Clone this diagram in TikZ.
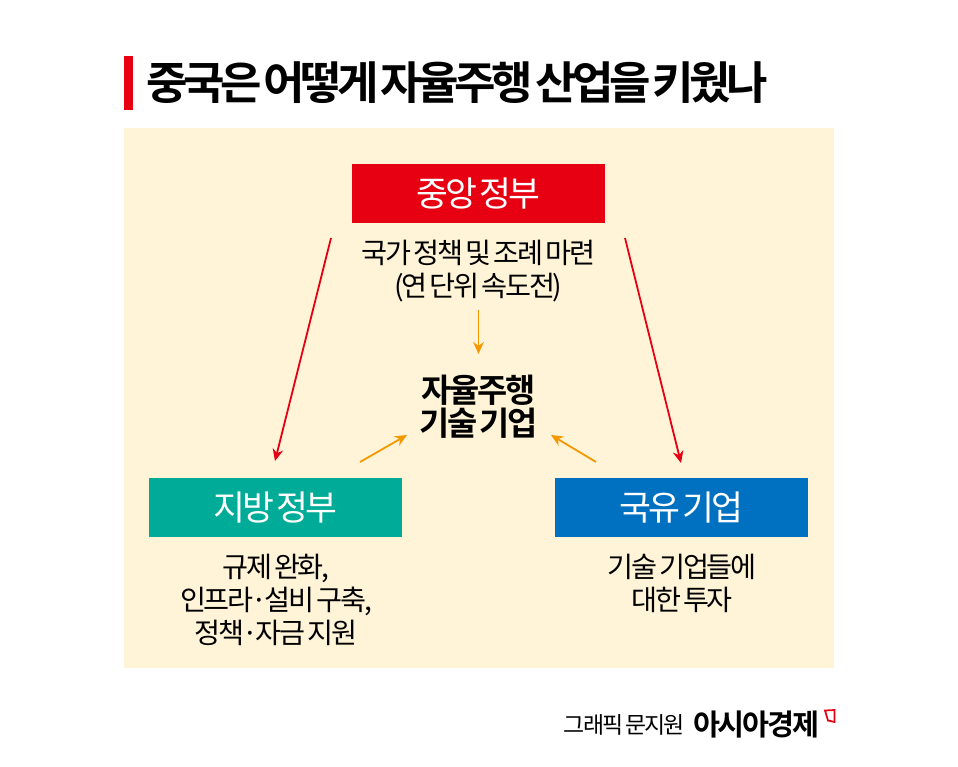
\documentclass[tikz,border=0pt]{standalone}
\usepackage{fontspec}
\usepackage{xcolor}
\usetikzlibrary{arrows.meta}
\setmainfont{Noto Sans CJK KR}
\newfontfamily\krbody[LetterSpace=-8.0,WordSpace=0.5]{Noto Sans CJK KR}
\newfontfamily\krbold[LetterSpace=-7.0,WordSpace=0.45]{Noto Sans CJK KR Bold}
\newfontfamily\krtitle[LetterSpace=-10.0,WordSpace=0.35]{Noto Sans CJK KR Bold}
\definecolor{paper}{HTML}{FFF4D7}
\definecolor{govred}{HTML}{E60012}
\definecolor{govgreen}{HTML}{00AB97}
\definecolor{govblue}{HTML}{0071C1}
\definecolor{arrowred}{HTML}{E60012}
\definecolor{arroworange}{HTML}{F39800}
\tikzset{box/.style={minimum width=189.75pt,minimum height=44.25pt,inner sep=0pt,text=white,font=\krbody\fontsize{26}{28}\selectfont},
txt/.style={align=center,inner sep=0pt,text=black,font=\krbody\fontsize{21.2}{24.75}\selectfont},
redarr/.style={draw=arrowred,line width=1.35pt,-{Stealth[length=9pt,width=8pt]}},
orarr/.style={draw=arroworange,line width=1.35pt,-{Stealth[length=9pt,width=8pt]}}}
\begin{document}
\begin{tikzpicture}[x=.75pt,y=-.75pt]
		\useasboundingbox (0,0) rectangle (958,767);
		\fill[paper] (124,128) rectangle (834,668);
		\fill[govred] (124,56) rectangle (133,110);
		\node[anchor=west,inner sep=0pt,font=\krtitle\fontsize{33.8}{36}\selectfont] (title) at (146,83) {중국은 어떻게 자율주행 산업을 키웠나};

		\node[box,fill=govred] (central) at (478.5,193.5) {중앙 정부};
		\node[box,fill=govgreen] (local) at (275.5,507.5) {지방 정부};
		\node[box,fill=govblue] (soe) at (681.5,507.5) {국유 기업};

		\node[txt] (centraltxt) at (478.5,271) {국가 정책 및 조례 마련\\(연 단위 속도전)};
		\node[txt] (localtxt) at (276,600) {규제 완화,\\인프라·설비 구축,\\정책·자금 지원};
		\node[txt] (soetxt) at (682,583) {기술 기업들에\\대한 투자};
		\node[txt,font=\krbold\fontsize{24.6}{25}\selectfont] (firm) at (478.5,407) {자율주행\\기술 기업};

		\coordinate (c1) at (331,238);
		\coordinate (c2) at (625,238);
		\coordinate (l1) at (275,461);
		\coordinate (s1) at (681,463);
		\coordinate (o1) at (478.5,310);
		\coordinate (o2) at (478.5,354);
		\coordinate (o3) at (360,462);
		\coordinate (o4) at (407,435);
		\coordinate (o5) at (596,462);
		\coordinate (o6) at (551,435);
		\draw[redarr] (c1) -- (l1);
		\draw[redarr] (c2) -- (s1);
		\draw[orarr] (o1) -- (o2);
		\draw[orarr] (o3) -- (o4);
		\draw[orarr] (o5) -- (o6);

		\node[anchor=east,inner sep=0pt,font=\krbody\fontsize{17.2}{20}\selectfont] (credit) at (685,725) {그래픽 문지원};
		\node[anchor=east,inner sep=0pt,font=\krbold\fontsize{22}{24}\selectfont] (logo) at (820,725) {아시아경제};
		\draw[govred,line width=1.3pt] (825,710.5) -- (834.5,710) -- (834.5,722) -- (828,720.5) -- cycle;
	\end{tikzpicture}
\end{document}
